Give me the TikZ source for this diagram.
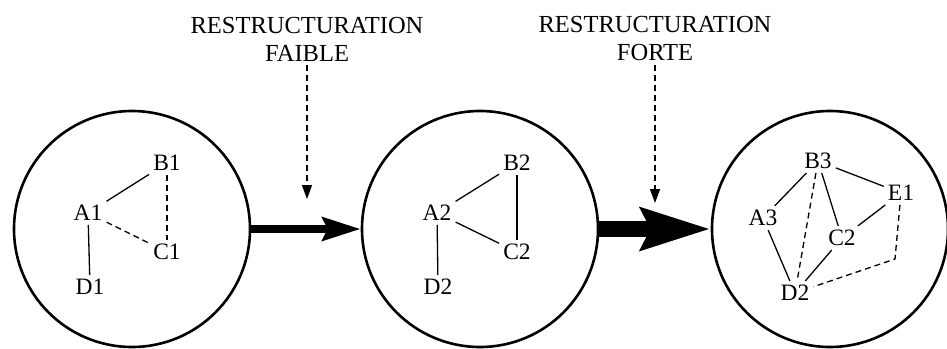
\documentclass[tikz,border=0pt]{standalone}
\usepackage{fontspec}
\setmainfont{Liberation Serif}
\usetikzlibrary{arrows.meta}

\begin{document}
\begin{tikzpicture}[x=1pt,y=-1pt,
every node/.style={inner sep=4pt,font=\fontsize{23.5}{28}\selectfont},
ring/.style={circle,draw,line width=2.6pt,minimum size=236pt},
edge/.style={line width=1.3pt},
dashedge/.style={line width=1.3pt,dash pattern=on 6pt off 4pt}]
\useasboundingbox (0,0) rectangle (947,348);
% the three states
\node[ring] (K1) at (132,229) {};
\node[ring] (K2) at (480,229) {};
\node[ring] (K3) at (830,229) {};
% first graph
\node (A1) at (88,213) {A1};
\node (B1) at (167,163) {B1};
\node (C1) at (167,252) {C1};
\node (D1) at (90,287) {D1};
\draw[edge] (A1)--(B1);
\draw[edge] (A1)--(D1);
\draw[dashedge] (A1)--(C1);
\draw[dashedge] (B1)--(C1);
% second graph
\node (A2) at (437,213) {A2};
\node (B2) at (517,163) {B2};
\node (C2) at (517,252) {C2};
\node (D2) at (438,287) {D2};
\draw[edge] (A2)--(B2);
\draw[edge] (A2)--(D2);
\draw[edge] (A2)--(C2);
\draw[edge] (B2)--(C2);
% third graph
\node (A3) at (763,218) {A3};
\node (B3) at (818,161) {B3};
\node (C3) at (842,238) {C2};
\node (D3) at (795,293) {D2};
\node (E3) at (901,193) {E1};
\coordinate (F3) at (895,259);
\draw[edge] (B3)--(A3)--(D3)--(C3)--(B3)--(E3)--(C3);
\draw[dashedge] (B3)--(D3);
\draw[dashedge] (E3)--(F3)--(D3);
% transitions
\draw[line width=8pt,-{Stealth[length=38pt,width=23pt,inset=5pt]}] (K1)--(K2);
\draw[line width=16pt,-{Stealth[length=69pt,width=41pt,inset=9pt]}] (K2)--(K3);
\node[align=center,font=\fontsize{24.5}{28}\selectfont] (L1) at (307,39) {RESTRUCTURATION\\FAIBLE};
\node[align=center,font=\fontsize{24.5}{28}\selectfont] (L2) at (655,39) {RESTRUCTURATION\\FORTE};
\coordinate (T1) at (307,199);
\coordinate (T2) at (655,203);
\draw[line width=1.5pt,dash pattern=on 6pt off 4pt,-{Triangle[length=14pt,width=10pt]}] (L1)--(T1);
\draw[line width=1.5pt,dash pattern=on 6pt off 4pt,-{Triangle[length=14pt,width=10pt]}] (L2)--(T2);
\end{tikzpicture}
\end{document}
